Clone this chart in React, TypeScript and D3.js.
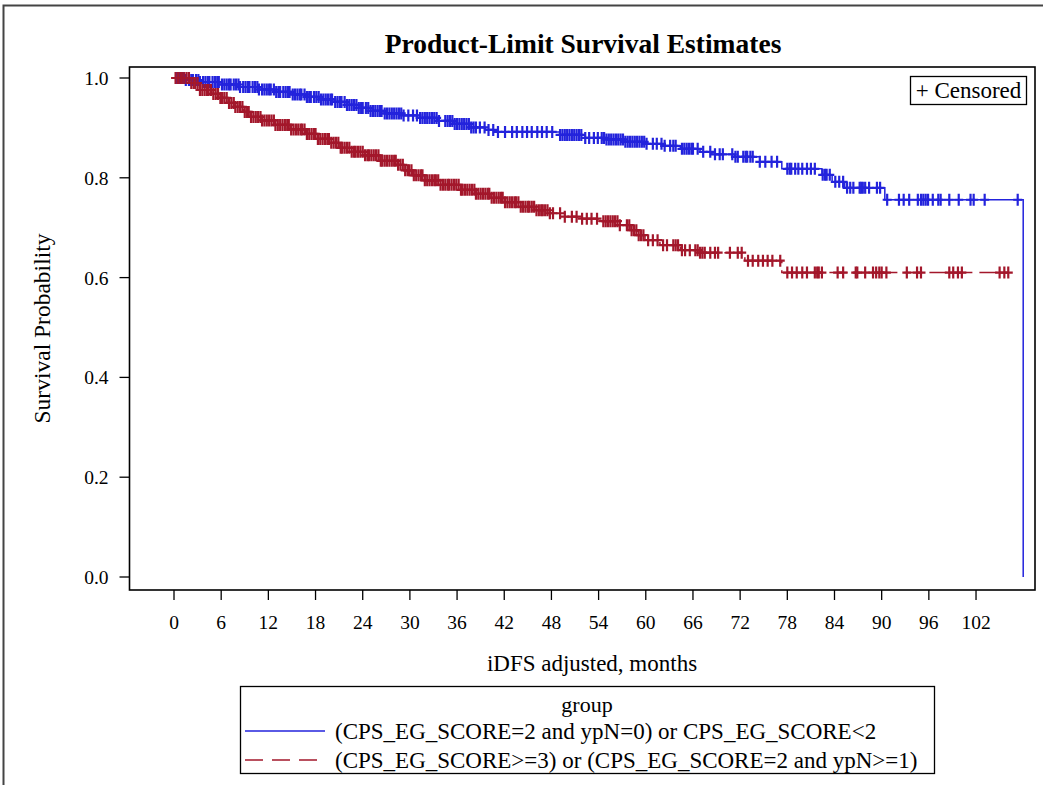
import React from "react";
import * as d3 from "d3";

// ---- data ----
const xTicks = [0, 6, 12, 18, 24, 30, 36, 42, 48, 54, 60, 66, 72, 78, 84, 90, 96, 102];
const yTicks = [0, 0.2, 0.4, 0.6, 0.8, 1.0];

// step function: [time, survival after the event]
const blueSteps: [number, number][] = [
  [0, 1], [1.4, 0.996], [3.3, 0.992], [6, 0.987], [8.4, 0.982], [10.7, 0.977], [12.8, 0.972],
  [14.8, 0.967], [16.7, 0.962], [18.6, 0.957], [20.5, 0.952], [22.0, 0.946], [23.5, 0.94],
  [25.0, 0.934], [26.8, 0.929], [29.0, 0.925], [31.3, 0.92], [33.5, 0.914], [35.5, 0.908],
  [37.6, 0.901], [39.6, 0.896], [40.8, 0.892], [49.1, 0.886], [52.3, 0.88], [54.8, 0.877],
  [57.4, 0.872], [59.9, 0.868], [62.4, 0.864], [64.4, 0.858], [66.9, 0.852], [68.4, 0.847],
  [71.3, 0.842], [74.5, 0.832], [77.3, 0.818], [82.4, 0.806], [83.7, 0.792], [85.3, 0.78],
  [90.4, 0.756], [108, 0],
];
const blueCensor = [
  0.4, 0.7, 1.0, 1.2, 1.5, 1.9, 2.2, 2.4, 2.8, 3.1, 3.3, 3.7, 4.0, 4.3, 4.5, 4.9, 5.2, 5.5, 5.7,
  6.1, 6.4, 6.7, 7.0, 7.2, 7.6, 7.9, 8.2, 8.4, 8.8, 9.1, 9.4, 9.6, 10.0, 10.3, 10.6, 10.8, 11.2,
  11.5, 11.8, 12.1, 12.3, 12.7, 13.0, 13.3, 13.5, 13.9, 14.2, 14.5, 14.7, 15.1, 15.4, 15.7, 16.0,
  16.2, 16.6, 16.9, 17.2, 17.4, 17.8, 18.1, 18.4, 18.7, 19.0, 19.3, 19.6, 19.9, 20.1, 20.5, 20.8,
  21.1, 21.3, 21.7, 22.0, 22.3, 22.6, 22.9, 23.2, 23.5, 23.8, 24.0, 24.4, 24.7, 25.0, 25.3, 25.6,
  25.9, 26.2, 26.4, 26.8, 27.1, 27.4, 27.7, 28.0, 28.3, 28.6, 28.9, 29.2, 29.8, 30.4, 30.9, 31.3,
  31.6, 31.9, 32.2, 32.5, 32.8, 33.1, 33.4, 33.7, 34.5, 34.8, 35.1, 35.4, 35.7, 36.0, 36.3, 36.6,
  36.9, 37.2, 37.5, 37.8, 38.1, 38.4, 38.9, 39.5, 40.0, 40.6, 41.2, 42.1, 43.0, 43.6, 44.3, 44.9,
  45.5, 46.2, 46.8, 47.4, 48.1, 49.1, 49.4, 49.7, 50.0, 50.3, 50.6, 50.9, 51.2, 51.5, 51.8, 52.3,
  52.8, 53.4, 53.9, 54.4, 54.7, 55.0, 55.3, 55.6, 55.9, 56.2, 56.5, 56.8, 57.1, 57.4, 57.7, 58.0,
  58.3, 58.6, 58.9, 59.2, 59.5, 59.8, 60.1, 60.9, 61.4, 62.0, 62.4, 63.1, 63.5, 63.8, 64.6, 64.9,
  65.2, 65.5, 65.8, 66.0, 66.6, 67.3, 68.2, 68.8, 69.4, 69.8, 71.0, 71.4, 71.7, 72.4, 72.7, 72.9,
  73.3, 73.6, 74.5, 75.2, 76.0, 76.7, 78.0, 78.3, 78.5, 79.0, 79.4, 79.9, 80.5, 81.0, 81.5, 82.5,
  82.8, 83.0, 83.4, 84.1, 84.6, 85.1, 85.6, 86.0, 86.4, 87.2, 87.4, 87.6, 87.9, 88.4, 89.4, 89.8,
  90.7, 92.2, 92.8, 93.5, 94.6, 95.0, 95.3, 95.6, 95.9, 96.5, 97.2, 97.5, 98.6, 99.8, 101.3, 101.7,
  103.1, 107.3,
];

const redSteps: [number, number][] = [
  [0, 1], [2.0, 0.99], [3.3, 0.976], [4.8, 0.968], [5.9, 0.96], [6.9, 0.95], [7.8, 0.942],
  [8.8, 0.932], [9.7, 0.922], [11.2, 0.915], [12.8, 0.906], [14.8, 0.897], [16.7, 0.888],
  [18.3, 0.878], [19.8, 0.87], [21.1, 0.86], [22.4, 0.852], [24.3, 0.845], [26.2, 0.834],
  [28.5, 0.826], [29.4, 0.815], [30.3, 0.805], [31.9, 0.795], [33.8, 0.786], [36.4, 0.776],
  [38.3, 0.768], [40.2, 0.76], [42.1, 0.751], [44.0, 0.742], [45.9, 0.735], [47.8, 0.729],
  [49.7, 0.722], [51.6, 0.718], [53.9, 0.713], [56.7, 0.705], [58.0, 0.695], [59.0, 0.685],
  [59.9, 0.675], [61.8, 0.665], [64.4, 0.655], [66.9, 0.65], [72.6, 0.634], [77.3, 0.61],
];
const redEnd = 106.1;
const redCensor = [
  0.2, 0.5, 0.8, 1.0, 1.3, 1.6, 1.9, 2.2, 2.5, 2.7, 3.0, 3.3, 3.6, 3.9, 4.2, 4.4, 4.7, 5.0, 5.3,
  5.6, 5.9, 6.1, 6.4, 6.7, 7.0, 7.3, 7.6, 7.8, 8.1, 8.4, 8.7, 9.0, 9.3, 9.5, 9.8, 10.1, 10.4, 10.7,
  11.0, 11.2, 11.5, 11.8, 12.1, 12.4, 12.7, 12.9, 13.2, 13.5, 13.8, 14.1, 14.4, 14.6, 14.9, 15.2,
  15.5, 15.8, 16.1, 16.3, 16.6, 16.9, 17.2, 17.5, 17.8, 18.0, 18.3, 18.6, 18.9, 19.2, 19.5, 19.7,
  20.0, 20.3, 20.6, 20.9, 21.2, 21.4, 21.7, 22.0, 22.3, 22.6, 22.9, 23.1, 23.4, 23.7, 24.0, 24.3,
  24.6, 24.8, 25.1, 25.4, 25.7, 26.0, 26.3, 26.5, 26.8, 27.1, 27.4, 27.7, 28.0, 28.2, 28.5, 28.8,
  29.1, 29.4, 29.7, 29.9, 30.2, 30.5, 30.8, 31.1, 31.4, 31.6, 31.9, 32.2, 32.5, 32.8, 33.1, 33.3,
  33.6, 33.9, 34.2, 34.5, 34.8, 35.0, 35.3, 35.6, 35.9, 36.2, 36.5, 36.7, 37.0, 37.3, 37.6, 37.9,
  38.2, 38.4, 38.7, 39.0, 39.3, 39.6, 39.9, 40.1, 40.4, 40.7, 41.0, 41.3, 41.6, 41.8, 42.1, 42.4,
  42.7, 43.0, 43.3, 43.5, 43.8, 44.1, 44.4, 44.7, 45.0, 45.2, 45.5, 45.8, 46.1, 46.4, 46.7, 46.9,
  47.2, 47.5, 47.8, 48.2, 49.1, 49.7, 50.6, 51.2, 51.9, 52.5, 53.1, 53.8, 54.6, 54.9, 55.2, 55.5,
  55.8, 56.1, 56.4, 56.7, 57.6, 57.9, 58.2, 58.5, 58.8, 59.1, 59.4, 59.7, 60.3, 60.9, 61.5, 62.2,
  62.7, 63.5, 63.8, 64.1, 64.6, 65.0, 65.6, 66.3, 66.6, 66.9, 67.2, 67.5, 68.2, 68.8, 69.2, 70.7,
  71.7, 72.2, 73.0, 73.6, 74.3, 74.9, 75.5, 76.1, 77.1, 78.0, 78.6, 79.2, 79.9, 80.5, 81.5, 81.8,
  82.0, 82.4, 84.4, 85.1, 86.7, 86.9, 87.9, 88.9, 89.3, 89.7, 90.0, 90.6, 93.2, 94.5, 95.0, 98.6,
  99.1, 99.7, 100.2, 105.0, 105.6, 106.1,
];

const groupLabels = [
  "(CPS_EG_SCORE=2 and ypN=0) or CPS_EG_SCORE<2",
  "(CPS_EG_SCORE>=3) or (CPS_EG_SCORE=2 and ypN>=1)",
];

const BLUE = "#2323dc";
const RED = "#a3172b";
const FONT = "'Liberation Serif', 'Times New Roman', serif";

function survAt(steps: [number, number][], t: number) {
  let s = steps[0][1];
  for (const [tt, v] of steps) {
    if (tt <= t) s = v;
    else break;
  }
  return s;
}

export default function App() {
  const left = 129.5, right = 1035, top = 67, bottom = 590;
  const x = d3.scaleLinear().domain([-5.66, 109.5]).range([left, right]);
  const y = d3.scaleLinear().domain([0, 1]).range([577, 78]);

  const line = d3
    .line<[number, number]>()
    .x((d) => x(d[0]))
    .y((d) => y(d[1]))
    .curve(d3.curveStepAfter);

  const bluePath = line(blueSteps) || "";
  const redPts: [number, number][] = [...redSteps, [redEnd, redSteps[redSteps.length - 1][1]]];
  const redPath = line(redPts) || "";

  const plus = (cx: number, cy: number, key: string, color: string) => (
    <path
      key={key}
      d={`M${cx - 4.5},${cy}H${cx + 4.5}M${cx},${cy - 6}V${cy + 6}`}
      stroke={color}
      strokeWidth={2.2}
      fill="none"
    />
  );

  return (
    <svg
      width={1043}
      height={785}
      style={{ position: "absolute", left: 0, top: 0, background: "#fff" }}
      fontFamily={FONT}
    >
      <rect x={0} y={0} width={1043} height={785} fill="#fff" />
      <path d="M3.5,785V5.5H1043" stroke="#444" strokeWidth={2} fill="none" />
      <text x={583} y={53} textAnchor="middle" fontSize={27.5} fontWeight="bold">
        Product-Limit Survival Estimates
      </text>

      {/* plot frame */}
      <rect x={left} y={top} width={right - left} height={bottom - top} fill="none" stroke="#000" strokeWidth={1.6} />

      {/* y axis */}
      {yTicks.map((v) => (
        <g key={"y" + v}>
          <line x1={left - 10} x2={left} y1={y(v)} y2={y(v)} stroke="#000" strokeWidth={1.3} />
          <text x={left - 21} y={y(v) + 7} textAnchor="end" fontSize={19.5}>
            {v.toFixed(1)}
          </text>
        </g>
      ))}
      <text
        transform={`translate(50,${(top + bottom) / 2}) rotate(-90)`}
        textAnchor="middle"
        fontSize={23.5}
      >
        Survival Probability
      </text>

      {/* x axis */}
      {xTicks.map((v) => (
        <g key={"x" + v}>
          <line x1={x(v)} x2={x(v)} y1={bottom} y2={bottom + 10} stroke="#000" strokeWidth={1.3} />
          <text x={x(v)} y={629} textAnchor="middle" fontSize={19.5}>
            {v}
          </text>
        </g>
      ))}
      <text x={592} y={671} textAnchor="middle" fontSize={23}>
        iDFS adjusted, months
      </text>

      {/* curves */}
      <path d={bluePath} stroke={BLUE} strokeWidth={1.5} fill="none" />
      <path d={redPath} stroke={RED} strokeWidth={1.5} fill="none" strokeDasharray="18,7" />
      {blueCensor.map((t, i) => plus(x(t), y(survAt(blueSteps, t)), "bc" + i, BLUE))}
      {redCensor.map((t, i) => plus(x(t), y(survAt(redSteps, t)), "rc" + i, RED))}

      {/* censored legend */}
      <rect x={910.5} y={76.5} width={116} height={28} fill="#fff" stroke="#000" strokeWidth={1.3} />
      <text x={968.5} y={98} textAnchor="middle" fontSize={23}>
        + Censored
      </text>

      {/* group legend */}
      <rect x={240.5} y={686.5} width={694} height={87} fill="#fff" stroke="#000" strokeWidth={1.3} />
      <text x={587} y={712} textAnchor="middle" fontSize={22}>
        group
      </text>
      <line x1={245} x2={325} y1={731} y2={731} stroke={BLUE} strokeWidth={1.5} />
      <text x={335} y={739} fontSize={23}>
        {groupLabels[0]}
      </text>
      <line x1={245} x2={325} y1={760} y2={760} stroke={RED} strokeWidth={1.5} strokeDasharray="18,9" />
      <text x={335} y={768} fontSize={23}>
        {groupLabels[1]}
      </text>
    </svg>
  );
}
